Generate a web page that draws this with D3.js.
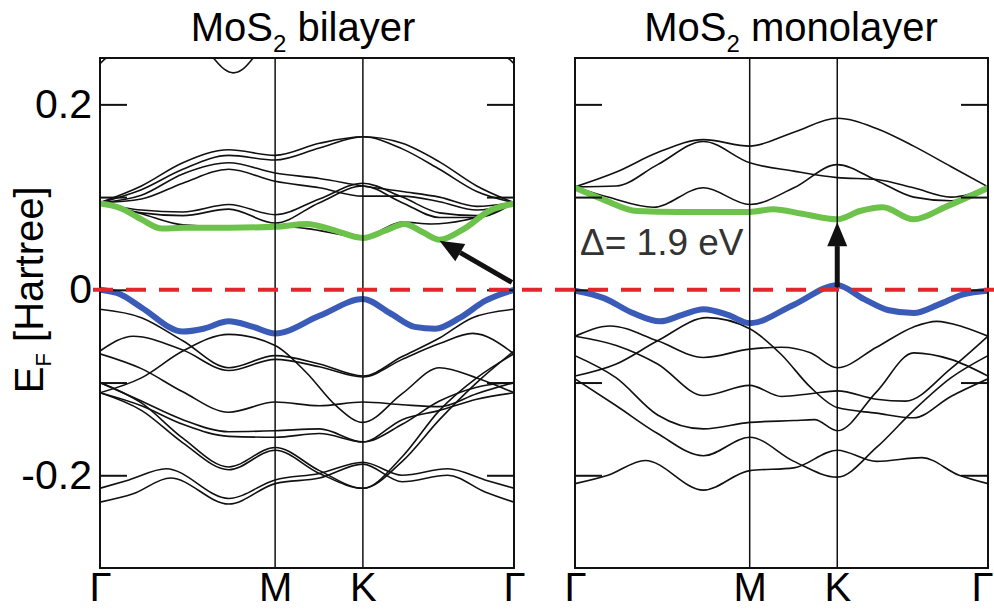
<!DOCTYPE html>
<html>
<head>
<meta charset="utf-8">
<script src="https://cdn.jsdelivr.net/npm/d3@7"></script>
<style>
    body { margin: 0; background: #fff; }
    svg { display: block; font-family: "Liberation Sans", Arial, sans-serif; }
</style>
</head>
<body>
<svg id="chart"></svg>
<script>
// k-path Γ-M-K-Γ (fraction of path length), energies E - E_F in Hartree
const kTicks = [0, 0.423, 0.635, 1];
const kLabels = ["Γ", "M", "K", "Γ"];
const yTicks = [-0.2, -0.1, 0, 0.1, 0.2];
const yTickLabels = ["-0.2", "", "0", "", "0.2"];

// bilayer: lowest conduction band (green) and highest valence band (blue)
const bilayerCBM = [[0, 0.093], [0.05, 0.088], [0.1, 0.076], [0.15, 0.066], [0.2, 0.067], [0.311, 0.067], [0.423, 0.068], [0.5, 0.071], [0.56, 0.065], [0.635, 0.056], [0.69, 0.064], [0.735, 0.071], [0.78, 0.062], [0.82, 0.054], [0.88, 0.066], [0.94, 0.085], [1, 0.093]];
const bilayerVBM = [[0, 0], [0.05, -0.005], [0.1, -0.019], [0.2, -0.045], [0.25, -0.042], [0.311, -0.034], [0.37, -0.040], [0.423, -0.047], [0.53, -0.028], [0.635, -0.010], [0.7, -0.025], [0.76, -0.040], [0.81, -0.042], [0.87, -0.030], [0.93, -0.012], [1, 0]];

const bilayerConduction = [
    [[0, 0.094], [0.1, 0.082], [0.2, 0.070], [0.311, 0.068], [0.423, 0.069], [0.5, 0.066], [0.635, 0.057], [0.73, 0.073], [0.8, 0.071], [0.88, 0.075], [1, 0.094]],
    [[0, 0.094], [0.1, 0.086], [0.2, 0.084], [0.311, 0.092], [0.423, 0.081], [0.53, 0.098], [0.635, 0.115], [0.73, 0.100], [0.82, 0.083], [0.91, 0.080], [1, 0.094]],
    [[0, 0.094], [0.1, 0.083], [0.2, 0.080], [0.311, 0.087], [0.423, 0.072], [0.53, 0.094], [0.635, 0.112], [0.73, 0.094], [0.82, 0.078], [0.91, 0.078], [1, 0.094]],
    [[0, 0.094], [0.1, 0.098], [0.2, 0.115], [0.311, 0.130], [0.423, 0.117], [0.53, 0.110], [0.635, 0.101], [0.73, 0.101], [0.82, 0.095], [0.91, 0.086], [1, 0.094]],
    [[0, 0.094], [0.1, 0.102], [0.2, 0.125], [0.311, 0.137], [0.423, 0.126], [0.53, 0.120], [0.635, 0.112], [0.73, 0.106], [0.82, 0.100], [0.91, 0.090], [1, 0.094]],
    [[0, 0.094], [0.1, 0.108], [0.2, 0.130], [0.311, 0.145], [0.423, 0.140], [0.53, 0.153], [0.635, 0.165], [0.73, 0.152], [0.82, 0.130], [0.91, 0.106], [1, 0.094]],
    [[0, 0.094], [0.1, 0.112], [0.2, 0.137], [0.311, 0.151], [0.423, 0.145], [0.53, 0.158], [0.635, 0.165], [0.73, 0.158], [0.82, 0.138], [0.91, 0.112], [1, 0.094]],
    [[0.2, 0.30], [0.274, 0.25], [0.3, 0.238], [0.322, 0.234], [0.345, 0.238], [0.37, 0.25], [0.45, 0.30]],
    [[0, 0.244], [0.03, 0.256], [0.5, 0.34], [0.97, 0.256], [1, 0.244]]
];

const bilayerValence = [
    [[0, -0.021], [0.1, -0.030], [0.2, -0.055], [0.311, -0.084], [0.423, -0.071], [0.53, -0.080], [0.635, -0.093], [0.73, -0.072], [0.82, -0.052], [0.9, -0.030], [1, -0.021]],
    [[0, -0.066], [0.08, -0.050], [0.2, -0.065], [0.311, -0.087], [0.423, -0.075], [0.53, -0.083], [0.635, -0.094], [0.73, -0.075], [0.82, -0.058], [0.9, -0.047], [1, -0.069]],
    [[0, -0.111], [0.1, -0.095], [0.2, -0.066], [0.311, -0.048], [0.423, -0.060], [0.5, -0.090], [0.57, -0.125], [0.635, -0.143], [0.73, -0.112], [0.82, -0.084], [0.91, -0.095], [1, -0.111]],
    [[0, -0.069], [0.1, -0.085], [0.2, -0.110], [0.311, -0.132], [0.423, -0.121], [0.53, -0.125], [0.635, -0.121], [0.73, -0.124], [0.82, -0.126], [0.91, -0.112], [1, -0.100]],
    [[0, -0.100], [0.1, -0.120], [0.2, -0.140], [0.311, -0.153], [0.423, -0.152], [0.53, -0.150], [0.635, -0.164], [0.73, -0.140], [0.82, -0.130], [0.91, -0.118], [1, -0.111]],
    [[0, -0.111], [0.1, -0.125], [0.2, -0.145], [0.311, -0.158], [0.423, -0.159], [0.53, -0.155], [0.635, -0.164], [0.73, -0.145], [0.82, -0.120], [0.91, -0.105], [1, -0.100]],
    [[0, -0.100], [0.1, -0.122], [0.2, -0.160], [0.311, -0.191], [0.423, -0.170], [0.53, -0.195], [0.635, -0.214], [0.73, -0.180], [0.82, -0.130], [0.91, -0.095], [1, -0.069]],
    [[0, -0.111], [0.1, -0.130], [0.2, -0.165], [0.311, -0.194], [0.423, -0.173], [0.53, -0.198], [0.635, -0.214], [0.73, -0.185], [0.82, -0.140], [0.91, -0.100], [1, -0.066]],
    [[0, -0.214], [0.07, -0.205], [0.16, -0.193], [0.311, -0.225], [0.423, -0.205], [0.53, -0.198], [0.635, -0.186], [0.73, -0.200], [0.84, -0.193], [0.93, -0.205], [1, -0.214]],
    [[0, -0.229], [0.08, -0.220], [0.17, -0.203], [0.311, -0.231], [0.423, -0.209], [0.53, -0.203], [0.635, -0.188], [0.73, -0.207], [0.84, -0.200], [0.93, -0.218], [1, -0.229]]
];

// monolayer
const monolayerCBM = [[0, 0.110], [0.07, 0.097], [0.15, 0.085], [0.25, 0.084], [0.423, 0.084], [0.48, 0.087], [0.55, 0.082], [0.635, 0.076], [0.69, 0.085], [0.745, 0.089], [0.82, 0.076], [0.9, 0.090], [1, 0.110]];
const monolayerVBM = [[0, -0.001], [0.07, -0.009], [0.14, -0.025], [0.206, -0.034], [0.26, -0.027], [0.311, -0.021], [0.37, -0.027], [0.423, -0.036], [0.53, -0.016], [0.635, 0.005], [0.7, -0.010], [0.76, -0.022], [0.82, -0.025], [0.88, -0.016], [0.94, -0.005], [1, -0.001]];

const monolayerConduction = [
    [[0, 0.111], [0.1, 0.127], [0.2, 0.148], [0.311, 0.162], [0.423, 0.155], [0.53, 0.170], [0.635, 0.185], [0.73, 0.174], [0.82, 0.155], [0.91, 0.133], [1, 0.111]],
    [[0, 0.111], [0.1, 0.112], [0.2, 0.135], [0.311, 0.160], [0.423, 0.137], [0.53, 0.128], [0.635, 0.121], [0.73, 0.119], [0.82, 0.110], [0.91, 0.100], [1, 0.111]],
    [[0, 0.111], [0.08, 0.100], [0.19, 0.089], [0.311, 0.110], [0.423, 0.092], [0.53, 0.110], [0.635, 0.135], [0.73, 0.118], [0.82, 0.100], [0.91, 0.096], [1, 0.111]]
];

const monolayerValence = [
    [[0, -0.050], [0.085, -0.039], [0.2, -0.055], [0.311, -0.073], [0.423, -0.064], [0.5, -0.062], [0.57, -0.068], [0.635, -0.084], [0.73, -0.062], [0.82, -0.040], [0.876, -0.034], [0.94, -0.040], [1, -0.050]],
    [[0, -0.093], [0.1, -0.080], [0.2, -0.055], [0.32, -0.030], [0.423, -0.042], [0.5, -0.070], [0.57, -0.105], [0.635, -0.127], [0.73, -0.133], [0.82, -0.138], [0.91, -0.115], [1, -0.096]],
    [[0, -0.050], [0.1, -0.060], [0.2, -0.080], [0.311, -0.114], [0.423, -0.103], [0.5, -0.115], [0.57, -0.112], [0.635, -0.109], [0.73, -0.118], [0.8, -0.120], [0.91, -0.085], [1, -0.050]],
    [[0, -0.071], [0.1, -0.095], [0.2, -0.135], [0.311, -0.150], [0.423, -0.143], [0.53, -0.141], [0.58, -0.140], [0.635, -0.152], [0.73, -0.110], [0.82, -0.068], [0.91, -0.075], [1, -0.093]],
    [[0, -0.096], [0.1, -0.125], [0.2, -0.155], [0.311, -0.179], [0.423, -0.159], [0.53, -0.185], [0.635, -0.202], [0.73, -0.170], [0.82, -0.130], [0.91, -0.095], [1, -0.071]],
    [[0, -0.209], [0.08, -0.200], [0.17, -0.184], [0.311, -0.216], [0.423, -0.195], [0.53, -0.192], [0.635, -0.173], [0.73, -0.185], [0.84, -0.181], [0.93, -0.200], [1, -0.209]]
];

// gap annotations (k, E)
const bilayerGap = [[0.995, 0.008], [0.82, 0.053]];
const monolayerGap = [[0.635, 0.003], [0.635, 0.073]];
const gapLabel = "Δ= 1.9 eV";

const width = 994, height = 611;
const svg = d3.select("#chart").attr("width", width).attr("height", height);

const y = d3.scaleLinear().domain([-0.3, 0.25]).range([568, 58]);

const BLACK = "#111";
const GREEN = "#6cc24a";
const BLUE = "#3a5cb8";
const RED = "#e3262b";

class BandPanel {
    constructor(id, left, right, title, titleX) {
        this.id = id;
        this.x = d3.scaleLinear().domain([0, 1]).range([left, right]);
        this.left = left;
        this.right = right;
        this.title = title;
        this.titleX = titleX;
        this.g = svg.append("g");
    }

    draw(bands, cbm, vbm, showLabels) {
        const x = this.x, g = this.g;
        const top = y(0.25), bottom = y(-0.3);

        g.append("clipPath").attr("id", "clip-" + this.id)
            .append("rect")
            .attr("x", this.left).attr("y", top)
            .attr("width", this.right - this.left).attr("height", bottom - top);

        const line = d3.line()
            .x(d => x(d[0]))
            .y(d => y(d[1]))
            .curve(d3.curveMonotoneX);

        const bandG = g.append("g").attr("clip-path", `url(#clip-${this.id})`);

        bandG.selectAll("path.band")
            .data(bands)
            .join("path")
            .attr("class", "band")
            .attr("d", line)
            .attr("fill", "none")
            .attr("stroke", BLACK)
            .attr("stroke-width", 1.6);

        bandG.append("path").datum(cbm)
            .attr("d", line).attr("fill", "none")
            .attr("stroke", GREEN).attr("stroke-width", 6).attr("stroke-linecap", "round");

        bandG.append("path").datum(vbm)
            .attr("d", line).attr("fill", "none")
            .attr("stroke", BLUE).attr("stroke-width", 6).attr("stroke-linecap", "round");

        // high-symmetry lines
        g.selectAll("line.sym")
            .data(kTicks.slice(1, -1))
            .join("line")
            .attr("class", "sym")
            .attr("x1", d => x(d)).attr("x2", d => x(d))
            .attr("y1", top).attr("y2", bottom)
            .attr("stroke", BLACK).attr("stroke-width", 1.5);

        g.append("rect")
            .attr("x", this.left).attr("y", top)
            .attr("width", this.right - this.left).attr("height", bottom - top)
            .attr("fill", "none").attr("stroke", BLACK).attr("stroke-width", 2);

        const yAxisL = d3.axisLeft(y)
            .tickValues(yTicks)
            .tickSize(-27)
            .tickPadding(8)
            .tickFormat((d, i) => showLabels ? yTickLabels[i] : "");
        const yAxisR = d3.axisRight(y)
            .tickValues(yTicks)
            .tickSize(-27)
            .tickFormat("");

        g.append("g")
            .attr("transform", `translate(${this.left},0)`)
            .call(yAxisL)
            .call(a => a.select(".domain").remove())
            .call(a => a.selectAll("line").attr("stroke", BLACK).attr("stroke-width", 2))
            .attr("font-family", null)
            .attr("font-size", 41);

        g.append("g")
            .attr("transform", `translate(${this.right},0)`)
            .call(yAxisR)
            .call(a => a.select(".domain").remove())
            .call(a => a.selectAll("line").attr("stroke", BLACK).attr("stroke-width", 2));

        const xAxis = d3.axisBottom(x)
            .tickValues(kTicks)
            .tickSize(0)
            .tickPadding(5)
            .tickFormat((d, i) => kLabels[i]);

        const xg = g.append("g")
            .attr("transform", `translate(0,${bottom})`)
            .call(xAxis)
            .call(a => a.select(".domain").remove())
            .attr("font-family", null)
            .attr("font-size", 40);

        // keep the last Γ inside the page
        if (this.right + 12 > width) {
            xg.selectAll(".tick text")
                .filter((d, i) => i === kTicks.length - 1)
                .attr("text-anchor", "end")
                .attr("x", width - this.right - 1);
        }

        const t = g.append("text")
            .attr("x", this.titleX).attr("y", 41)
            .attr("text-anchor", "middle")
            .attr("font-size", 40);
        t.append("tspan").text("MoS");
        t.append("tspan").attr("font-size", 24).attr("dy", 11).text("2");
        t.append("tspan").attr("dy", -11).text(" " + this.title);
    }

    arrow(pts) {
        const x = this.x;
        const x1 = x(pts[0][0]), y1 = y(pts[0][1]);
        const x2 = x(pts[1][0]), y2 = y(pts[1][1]);
        const ang = Math.atan2(y2 - y1, x2 - x1);
        const len = 24, half = 10;
        const bx = x2 - len * Math.cos(ang), by = y2 - len * Math.sin(ang);
        this.g.append("line")
            .attr("x1", x1).attr("y1", y1).attr("x2", bx).attr("y2", by)
            .attr("stroke", BLACK).attr("stroke-width", 5);
        const nx = -Math.sin(ang) * half, ny = Math.cos(ang) * half;
        this.g.append("path")
            .attr("d", `M${x2},${y2}L${bx + nx},${by + ny}L${bx - nx},${by - ny}Z`)
            .attr("fill", BLACK);
    }
}

const bilayer = new BandPanel("bi", 100, 514, "bilayer", 303);
bilayer.draw([...bilayerConduction, ...bilayerValence], bilayerCBM, bilayerVBM, true);

const monolayer = new BandPanel("mono", 575, 988, "monolayer", 791);
monolayer.draw([...monolayerConduction, ...monolayerValence], monolayerCBM, monolayerVBM, false);

// Fermi level, dashed across both panels
svg.append("line")
    .attr("x1", 93).attr("x2", width)
    .attr("y1", y(0)).attr("y2", y(0))
    .attr("stroke", RED).attr("stroke-width", 4)
    .attr("stroke-dasharray", "20,13");

bilayer.arrow(bilayerGap);
monolayer.arrow(monolayerGap);

svg.append("text")
    .attr("x", monolayer.x(0.012)).attr("y", y(0.038))
    .attr("font-size", 37)
    .attr("fill", "#333")
    .text(gapLabel);

// y axis title
const yl = svg.append("text")
    .attr("transform", `translate(43,${y(0)}) rotate(-90)`)
    .attr("text-anchor", "middle")
    .attr("font-size", 40);
yl.append("tspan").text("E");
yl.append("tspan").attr("font-size", 22).attr("dy", 8).text("F");
yl.append("tspan").attr("dy", -8).text(" [Hartree]");
</script>
</body>
</html>
